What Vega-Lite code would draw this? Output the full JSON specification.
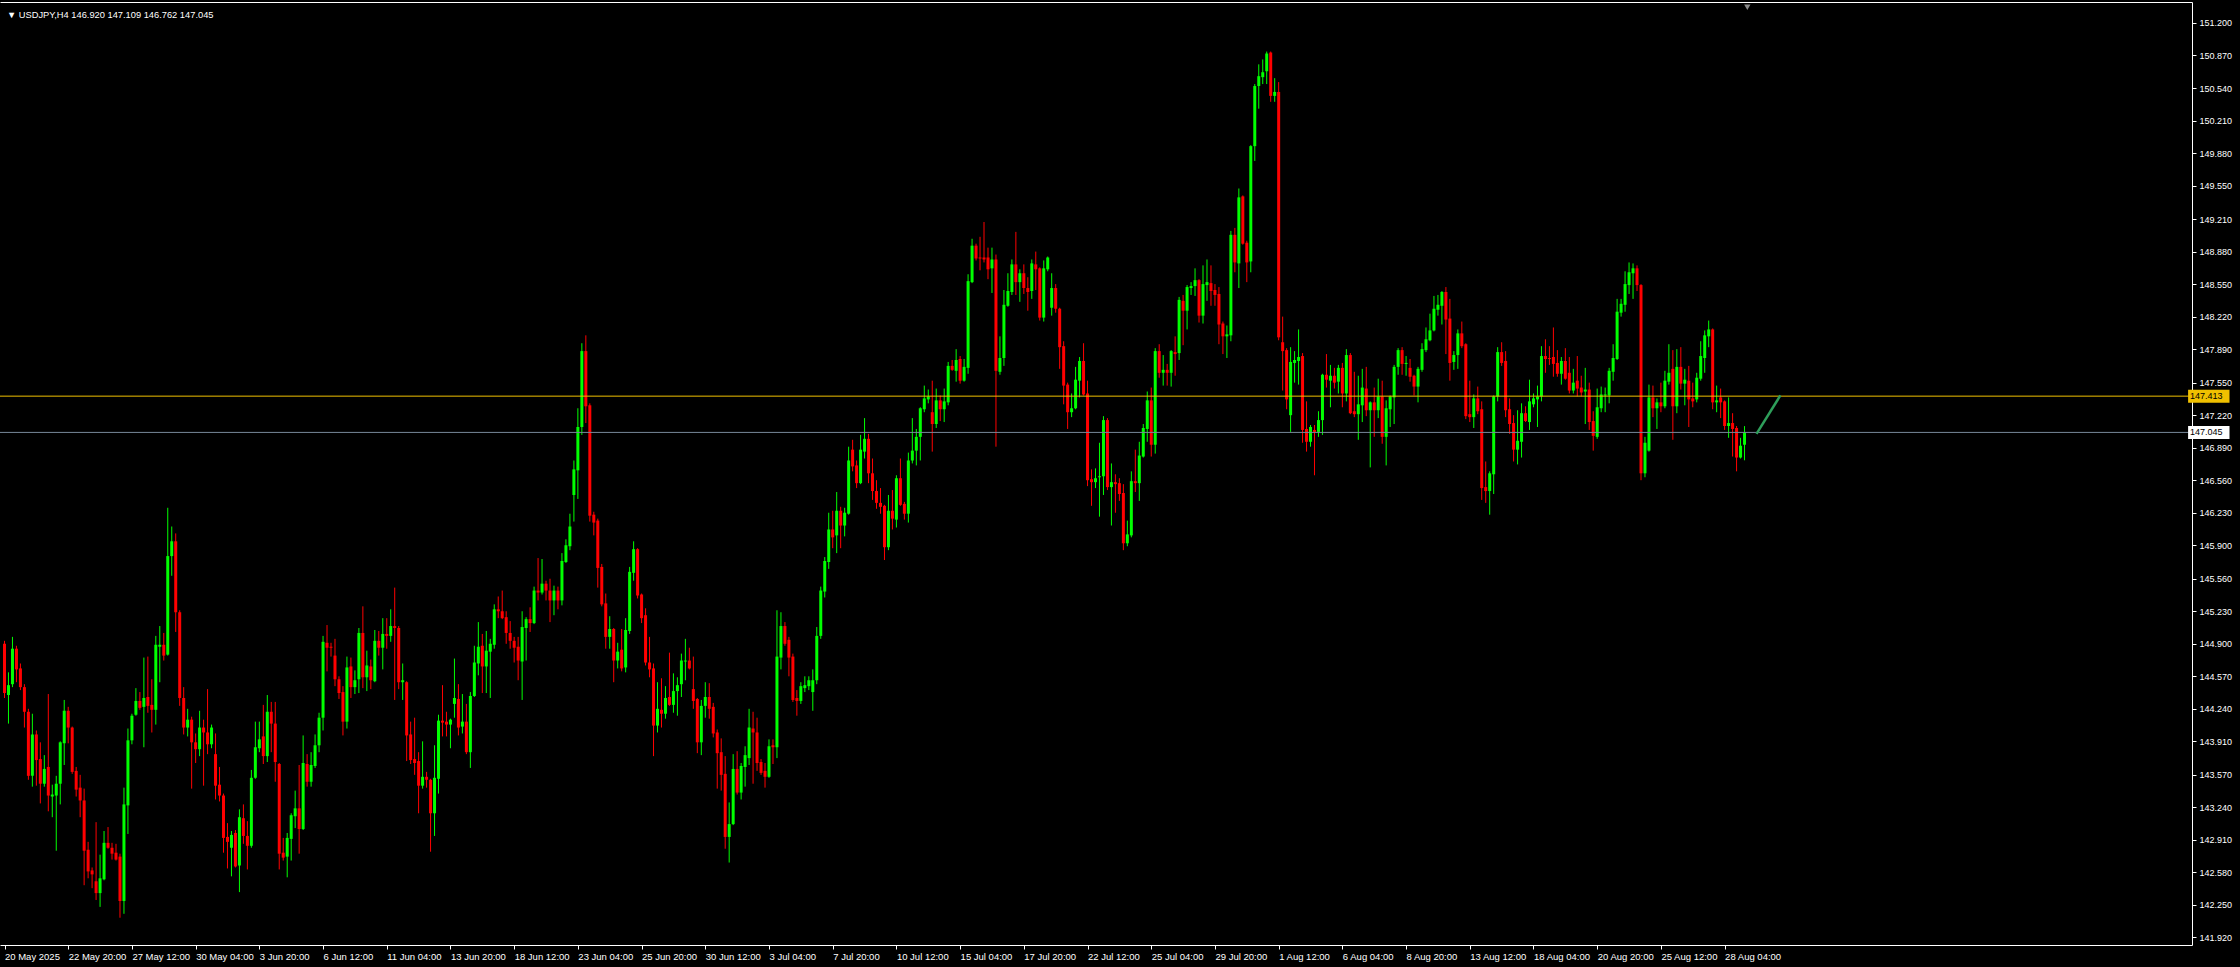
{
"$schema": "https://vega.github.io/schema/vega-lite/v6.json",
"width": 2192, "height": 943,
"autosize": {"type": "none"},
"padding": {"left": 0, "top": 2, "right": 48, "bottom": 22},
"background": "#000000",
"config": {"view": {"stroke": null}, "axis": {"grid": false, "labelColor": "#ffffff", "tickColor": "#ffffff", "domainColor": "#ffffff", "labelFont": "Liberation Sans", "domainWidth": 1, "tickWidth": 1, "labelOverlap": false, "labelFlush": false}},
"resolve": {"axis": {"x": "independent", "y": "independent"}},
"datasets": {
"bars": [
{"i":0,"o":144.90,"h":144.93,"l":144.35,"c":144.40},
{"i":1,"o":144.38,"h":144.61,"l":144.09,"c":144.48},
{"i":2,"o":144.49,"h":144.97,"l":144.46,"c":144.85},
{"i":3,"o":144.85,"h":144.88,"l":144.51,"c":144.64},
{"i":4,"o":144.65,"h":144.70,"l":144.43,"c":144.46},
{"i":5,"o":144.46,"h":144.49,"l":144.05,"c":144.21},
{"i":6,"o":144.21,"h":144.24,"l":143.52,"c":143.56},
{"i":7,"o":143.56,"h":144.19,"l":143.45,"c":143.98},
{"i":8,"o":143.98,"h":144.02,"l":143.46,"c":143.72},
{"i":9,"o":143.73,"h":143.90,"l":143.28,"c":143.48},
{"i":10,"o":143.48,"h":143.77,"l":143.45,"c":143.63},
{"i":11,"o":143.65,"h":144.39,"l":143.20,"c":143.36},
{"i":12,"o":143.35,"h":143.47,"l":143.14,"c":143.37},
{"i":13,"o":143.36,"h":143.56,"l":142.80,"c":143.48},
{"i":14,"o":143.48,"h":143.91,"l":143.27,"c":143.90},
{"i":15,"o":143.89,"h":144.33,"l":143.67,"c":144.22},
{"i":16,"o":144.22,"h":144.26,"l":143.89,"c":144.05},
{"i":17,"o":144.05,"h":144.06,"l":143.58,"c":143.60},
{"i":18,"o":143.61,"h":143.65,"l":143.35,"c":143.42},
{"i":19,"o":143.44,"h":143.57,"l":143.14,"c":143.31},
{"i":20,"o":143.31,"h":143.43,"l":142.45,"c":142.80},
{"i":21,"o":142.81,"h":142.89,"l":142.52,"c":142.59},
{"i":22,"o":142.60,"h":142.63,"l":142.42,"c":142.56},
{"i":23,"o":142.49,"h":143.09,"l":142.30,"c":142.37},
{"i":24,"o":142.37,"h":142.76,"l":142.23,"c":142.52},
{"i":25,"o":142.51,"h":143.00,"l":142.50,"c":142.88},
{"i":26,"o":142.88,"h":143.04,"l":142.82,"c":142.83},
{"i":27,"o":142.83,"h":142.88,"l":142.71,"c":142.77},
{"i":28,"o":142.78,"h":142.87,"l":142.70,"c":142.71},
{"i":29,"o":142.74,"h":142.77,"l":142.12,"c":142.29},
{"i":30,"o":142.29,"h":143.44,"l":142.16,"c":143.27},
{"i":31,"o":143.26,"h":144.04,"l":142.97,"c":143.92},
{"i":32,"o":143.92,"h":144.19,"l":143.88,"c":144.17},
{"i":33,"o":144.18,"h":144.45,"l":144.17,"c":144.32},
{"i":34,"o":144.32,"h":144.41,"l":144.23,"c":144.25},
{"i":35,"o":144.26,"h":144.76,"l":143.85,"c":144.35},
{"i":36,"o":144.36,"h":144.77,"l":144.20,"c":144.27},
{"i":37,"o":144.28,"h":144.54,"l":144.00,"c":144.23},
{"i":38,"o":144.23,"h":144.98,"l":144.08,"c":144.89},
{"i":39,"o":144.87,"h":145.08,"l":144.51,"c":144.89},
{"i":40,"o":144.89,"h":145.01,"l":144.73,"c":144.78},
{"i":41,"o":144.79,"h":146.28,"l":144.78,"c":145.79},
{"i":42,"o":145.79,"h":146.09,"l":145.59,"c":145.94},
{"i":43,"o":145.94,"h":146.02,"l":145.02,"c":145.22},
{"i":44,"o":145.22,"h":145.24,"l":144.27,"c":144.35},
{"i":45,"o":144.35,"h":144.46,"l":143.98,"c":144.05},
{"i":46,"o":144.05,"h":144.24,"l":143.96,"c":144.13},
{"i":47,"o":144.13,"h":144.16,"l":143.43,"c":143.90},
{"i":48,"o":143.90,"h":143.99,"l":143.69,"c":143.83},
{"i":49,"o":143.83,"h":144.22,"l":143.76,"c":144.05},
{"i":50,"o":144.05,"h":144.13,"l":143.46,"c":144.00},
{"i":51,"o":144.00,"h":144.44,"l":143.78,"c":143.88},
{"i":52,"o":143.88,"h":144.08,"l":143.84,"c":144.05},
{"i":53,"o":143.78,"h":143.99,"l":143.32,"c":143.46},
{"i":54,"o":143.47,"h":143.65,"l":143.30,"c":143.36},
{"i":55,"o":143.36,"h":143.38,"l":142.78,"c":142.93},
{"i":56,"o":142.94,"h":143.08,"l":142.62,"c":142.89},
{"i":57,"o":142.83,"h":143.00,"l":142.54,"c":142.96},
{"i":58,"o":142.98,"h":143.01,"l":142.63,"c":142.64},
{"i":59,"o":142.65,"h":143.22,"l":142.38,"c":143.14},
{"i":60,"o":143.13,"h":143.27,"l":142.87,"c":142.95},
{"i":61,"o":142.95,"h":143.10,"l":142.61,"c":142.85},
{"i":62,"o":142.85,"h":143.62,"l":142.83,"c":143.54},
{"i":63,"o":143.54,"h":144.11,"l":143.53,"c":143.85},
{"i":64,"o":143.84,"h":144.11,"l":143.80,"c":143.93},
{"i":65,"o":143.96,"h":144.28,"l":143.68,"c":143.76},
{"i":66,"o":143.76,"h":144.38,"l":143.70,"c":144.21},
{"i":67,"o":144.21,"h":144.31,"l":143.80,"c":144.09},
{"i":68,"o":144.09,"h":144.31,"l":143.50,"c":143.70},
{"i":69,"o":143.68,"h":143.69,"l":142.61,"c":142.77},
{"i":70,"o":142.78,"h":142.93,"l":142.70,"c":142.73},
{"i":71,"o":142.74,"h":142.98,"l":142.53,"c":142.93},
{"i":72,"o":142.92,"h":143.18,"l":142.70,"c":143.16},
{"i":73,"o":143.15,"h":143.41,"l":143.03,"c":143.23},
{"i":74,"o":143.23,"h":143.67,"l":142.77,"c":143.02},
{"i":75,"o":143.02,"h":143.97,"l":143.01,"c":143.69},
{"i":76,"o":143.68,"h":143.78,"l":143.45,"c":143.50},
{"i":77,"o":143.50,"h":143.80,"l":143.45,"c":143.67},
{"i":78,"o":143.66,"h":143.98,"l":143.64,"c":143.87},
{"i":79,"o":143.87,"h":144.20,"l":143.80,"c":144.15},
{"i":80,"o":144.15,"h":144.98,"l":144.02,"c":144.92},
{"i":81,"o":144.91,"h":145.09,"l":144.62,"c":144.86},
{"i":82,"o":144.87,"h":144.91,"l":144.77,"c":144.86},
{"i":83,"o":144.78,"h":144.95,"l":144.47,"c":144.54},
{"i":84,"o":144.54,"h":144.57,"l":144.34,"c":144.40},
{"i":85,"o":144.41,"h":144.47,"l":143.97,"c":144.11},
{"i":86,"o":144.11,"h":144.77,"l":144.04,"c":144.66},
{"i":87,"o":144.67,"h":144.76,"l":144.35,"c":144.46},
{"i":88,"o":144.46,"h":144.63,"l":144.39,"c":144.53},
{"i":89,"o":144.54,"h":145.06,"l":144.40,"c":145.01},
{"i":90,"o":145.01,"h":145.28,"l":144.45,"c":144.56},
{"i":91,"o":144.56,"h":144.83,"l":144.42,"c":144.68},
{"i":92,"o":144.67,"h":144.74,"l":144.44,"c":144.53},
{"i":93,"o":144.52,"h":145.04,"l":144.51,"c":144.93},
{"i":94,"o":144.93,"h":145.03,"l":144.78,"c":144.86},
{"i":95,"o":144.86,"h":145.16,"l":144.64,"c":145.00},
{"i":96,"o":145.00,"h":145.16,"l":144.85,"c":144.98},
{"i":97,"o":144.98,"h":145.25,"l":144.92,"c":145.08},
{"i":98,"o":145.08,"h":145.47,"l":144.33,"c":145.06},
{"i":99,"o":145.06,"h":145.08,"l":144.44,"c":144.51},
{"i":100,"o":144.51,"h":144.70,"l":144.33,"c":144.53},
{"i":101,"o":144.51,"h":144.52,"l":143.71,"c":143.97},
{"i":102,"o":143.98,"h":144.11,"l":143.68,"c":143.72},
{"i":103,"o":143.73,"h":144.15,"l":143.57,"c":143.69},
{"i":104,"o":143.71,"h":143.80,"l":143.18,"c":143.46},
{"i":105,"o":143.46,"h":143.91,"l":143.43,"c":143.55},
{"i":106,"o":143.55,"h":143.60,"l":143.44,"c":143.52},
{"i":107,"o":143.52,"h":143.53,"l":142.79,"c":143.18},
{"i":108,"o":143.18,"h":143.87,"l":142.95,"c":143.54},
{"i":109,"o":143.53,"h":144.18,"l":143.38,"c":144.12},
{"i":110,"o":144.12,"h":144.48,"l":143.96,"c":144.10},
{"i":111,"o":144.11,"h":144.21,"l":143.96,"c":144.08},
{"i":112,"o":144.08,"h":144.14,"l":143.84,"c":144.13},
{"i":113,"o":144.29,"h":144.75,"l":144.15,"c":144.35},
{"i":114,"o":144.34,"h":144.49,"l":143.97,"c":144.05},
{"i":115,"o":144.06,"h":144.39,"l":143.99,"c":144.11},
{"i":116,"o":144.11,"h":144.29,"l":143.78,"c":143.80},
{"i":117,"o":143.80,"h":144.41,"l":143.64,"c":144.37},
{"i":118,"o":144.37,"h":144.88,"l":144.36,"c":144.71},
{"i":119,"o":144.70,"h":145.12,"l":144.58,"c":144.87},
{"i":120,"o":144.88,"h":145.00,"l":144.40,"c":144.67},
{"i":121,"o":144.67,"h":145.03,"l":144.40,"c":144.83},
{"i":122,"o":144.82,"h":144.95,"l":144.35,"c":144.90},
{"i":123,"o":144.89,"h":145.30,"l":144.85,"c":145.25},
{"i":124,"o":145.25,"h":145.38,"l":145.16,"c":145.23},
{"i":125,"o":145.23,"h":145.44,"l":145.15,"c":145.16},
{"i":126,"o":145.17,"h":145.23,"l":144.90,"c":145.01},
{"i":127,"o":145.01,"h":145.13,"l":144.85,"c":144.93},
{"i":128,"o":144.93,"h":144.97,"l":144.71,"c":144.86},
{"i":129,"o":144.87,"h":144.97,"l":144.53,"c":144.73},
{"i":130,"o":144.72,"h":145.23,"l":144.33,"c":145.07},
{"i":131,"o":145.06,"h":145.17,"l":144.73,"c":145.15},
{"i":132,"o":145.15,"h":145.27,"l":145.02,"c":145.11},
{"i":133,"o":145.11,"h":145.48,"l":145.10,"c":145.44},
{"i":134,"o":145.44,"h":145.77,"l":145.34,"c":145.42},
{"i":135,"o":145.42,"h":145.76,"l":145.40,"c":145.51},
{"i":136,"o":145.51,"h":145.54,"l":145.34,"c":145.44},
{"i":137,"o":145.44,"h":145.56,"l":145.12,"c":145.34},
{"i":138,"o":145.34,"h":145.49,"l":145.19,"c":145.44},
{"i":139,"o":145.44,"h":145.48,"l":145.25,"c":145.34},
{"i":140,"o":145.34,"h":145.82,"l":145.29,"c":145.74},
{"i":141,"o":145.73,"h":145.96,"l":145.72,"c":145.90},
{"i":142,"o":145.89,"h":146.22,"l":145.85,"c":146.09},
{"i":143,"o":146.41,"h":146.76,"l":146.14,"c":146.67},
{"i":144,"o":146.66,"h":147.29,"l":146.37,"c":147.10},
{"i":145,"o":147.10,"h":147.95,"l":147.02,"c":147.87},
{"i":146,"o":147.87,"h":148.03,"l":147.14,"c":147.31},
{"i":147,"o":147.32,"h":147.34,"l":146.14,"c":146.20},
{"i":148,"o":146.21,"h":146.24,"l":146.00,"c":146.13},
{"i":149,"o":146.15,"h":146.17,"l":145.47,"c":145.67},
{"i":150,"o":145.68,"h":145.71,"l":145.28,"c":145.30},
{"i":151,"o":145.31,"h":145.41,"l":144.85,"c":144.97},
{"i":152,"o":144.97,"h":145.18,"l":144.85,"c":145.05},
{"i":153,"o":145.05,"h":145.06,"l":144.51,"c":144.73},
{"i":154,"o":144.73,"h":144.91,"l":144.65,"c":144.82},
{"i":155,"o":144.84,"h":145.05,"l":144.62,"c":144.65},
{"i":156,"o":144.66,"h":145.16,"l":144.61,"c":145.04},
{"i":157,"o":145.03,"h":145.68,"l":145.00,"c":145.63},
{"i":158,"o":145.62,"h":145.94,"l":145.54,"c":145.86},
{"i":159,"o":145.86,"h":145.87,"l":145.36,"c":145.39},
{"i":160,"o":145.40,"h":145.41,"l":145.11,"c":145.16},
{"i":161,"o":145.19,"h":145.26,"l":144.68,"c":144.71},
{"i":162,"o":144.71,"h":144.97,"l":144.56,"c":144.64},
{"i":163,"o":144.65,"h":144.70,"l":143.76,"c":144.07},
{"i":164,"o":144.07,"h":144.51,"l":144.00,"c":144.24},
{"i":165,"o":144.23,"h":144.55,"l":144.05,"c":144.19},
{"i":166,"o":144.19,"h":144.47,"l":144.14,"c":144.35},
{"i":167,"o":144.36,"h":144.81,"l":144.27,"c":144.28},
{"i":168,"o":144.28,"h":144.60,"l":144.20,"c":144.42},
{"i":169,"o":144.42,"h":144.56,"l":144.17,"c":144.48},
{"i":170,"o":144.49,"h":144.80,"l":144.36,"c":144.73},
{"i":171,"o":144.72,"h":144.95,"l":144.53,"c":144.73},
{"i":172,"o":144.73,"h":144.86,"l":144.64,"c":144.65},
{"i":173,"o":144.44,"h":144.77,"l":144.24,"c":144.32},
{"i":174,"o":144.34,"h":144.35,"l":143.79,"c":143.90},
{"i":175,"o":143.90,"h":144.33,"l":143.77,"c":144.27},
{"i":176,"o":144.27,"h":144.51,"l":144.15,"c":144.36},
{"i":177,"o":144.36,"h":144.50,"l":144.14,"c":144.24},
{"i":178,"o":144.26,"h":144.30,"l":143.95,"c":143.99},
{"i":179,"o":144.00,"h":144.03,"l":143.43,"c":143.79},
{"i":180,"o":143.80,"h":143.94,"l":143.41,"c":143.57},
{"i":181,"o":143.58,"h":143.76,"l":142.82,"c":142.94},
{"i":182,"o":142.94,"h":143.29,"l":142.68,"c":143.07},
{"i":183,"o":143.07,"h":143.78,"l":143.06,"c":143.63},
{"i":184,"o":143.63,"h":143.81,"l":143.37,"c":143.39},
{"i":185,"o":143.39,"h":143.69,"l":143.32,"c":143.66},
{"i":186,"o":143.65,"h":143.86,"l":143.45,"c":143.77},
{"i":187,"o":143.74,"h":144.24,"l":143.67,"c":144.05},
{"i":188,"o":144.04,"h":144.21,"l":143.48,"c":144.00},
{"i":189,"o":144.00,"h":144.15,"l":143.61,"c":143.69},
{"i":190,"o":143.70,"h":143.73,"l":143.57,"c":143.59},
{"i":191,"o":143.61,"h":143.69,"l":143.44,"c":143.55},
{"i":192,"o":143.55,"h":143.93,"l":143.54,"c":143.86},
{"i":193,"o":143.87,"h":143.93,"l":143.68,"c":143.85},
{"i":194,"o":143.85,"h":145.24,"l":143.74,"c":144.77},
{"i":195,"o":144.76,"h":145.22,"l":144.64,"c":145.08},
{"i":196,"o":145.08,"h":145.12,"l":144.88,"c":144.90},
{"i":197,"o":144.94,"h":144.97,"l":144.57,"c":144.76},
{"i":198,"o":144.77,"h":144.80,"l":144.31,"c":144.33},
{"i":199,"o":144.35,"h":144.43,"l":144.17,"c":144.32},
{"i":200,"o":144.32,"h":144.51,"l":144.29,"c":144.47},
{"i":201,"o":144.45,"h":144.57,"l":144.41,"c":144.48},
{"i":202,"o":144.47,"h":144.57,"l":144.43,"c":144.53},
{"i":203,"o":144.41,"h":144.64,"l":144.22,"c":144.53},
{"i":204,"o":144.53,"h":145.07,"l":144.49,"c":144.98},
{"i":205,"o":144.98,"h":145.48,"l":144.95,"c":145.44},
{"i":206,"o":145.43,"h":145.78,"l":145.37,"c":145.74},
{"i":207,"o":145.73,"h":146.23,"l":145.66,"c":146.06},
{"i":208,"o":146.06,"h":146.25,"l":145.87,"c":145.98},
{"i":209,"o":146.00,"h":146.44,"l":145.82,"c":146.25},
{"i":210,"o":146.25,"h":146.29,"l":145.87,"c":146.10},
{"i":211,"o":146.10,"h":146.28,"l":145.99,"c":146.23},
{"i":212,"o":146.22,"h":146.90,"l":146.21,"c":146.76},
{"i":213,"o":146.87,"h":146.97,"l":146.65,"c":146.70},
{"i":214,"o":146.71,"h":146.76,"l":146.48,"c":146.53},
{"i":215,"o":146.53,"h":147.02,"l":146.52,"c":146.87},
{"i":216,"o":146.85,"h":147.19,"l":146.78,"c":146.98},
{"i":217,"o":146.98,"h":147.03,"l":146.53,"c":146.63},
{"i":218,"o":146.63,"h":146.78,"l":146.36,"c":146.45},
{"i":219,"o":146.45,"h":146.56,"l":146.27,"c":146.33},
{"i":220,"o":146.33,"h":146.48,"l":146.22,"c":146.29},
{"i":221,"o":146.30,"h":146.31,"l":145.75,"c":145.88},
{"i":222,"o":145.88,"h":146.41,"l":145.85,"c":146.25},
{"i":223,"o":146.25,"h":146.46,"l":146.06,"c":146.17},
{"i":224,"o":146.16,"h":146.61,"l":146.08,"c":146.58},
{"i":225,"o":146.58,"h":146.78,"l":146.30,"c":146.31},
{"i":226,"o":146.32,"h":146.34,"l":146.16,"c":146.22},
{"i":227,"o":146.22,"h":146.84,"l":146.13,"c":146.76},
{"i":228,"o":146.76,"h":147.19,"l":146.73,"c":146.86},
{"i":229,"o":146.86,"h":147.08,"l":146.71,"c":147.00},
{"i":230,"o":147.00,"h":147.30,"l":146.76,"c":147.29},
{"i":231,"o":147.28,"h":147.52,"l":147.25,"c":147.39},
{"i":232,"o":147.38,"h":147.48,"l":147.34,"c":147.41},
{"i":233,"o":147.25,"h":147.57,"l":146.85,"c":147.13},
{"i":234,"o":147.13,"h":147.49,"l":147.09,"c":147.37},
{"i":235,"o":147.37,"h":147.42,"l":147.16,"c":147.28},
{"i":236,"o":147.28,"h":147.49,"l":147.15,"c":147.36},
{"i":237,"o":147.35,"h":147.76,"l":147.32,"c":147.72},
{"i":238,"o":147.72,"h":147.78,"l":147.67,"c":147.68},
{"i":239,"o":147.67,"h":147.89,"l":147.56,"c":147.78},
{"i":240,"o":147.79,"h":147.82,"l":147.54,"c":147.57},
{"i":241,"o":147.57,"h":147.79,"l":147.56,"c":147.71},
{"i":242,"o":147.70,"h":148.65,"l":147.64,"c":148.58},
{"i":243,"o":148.57,"h":149.01,"l":148.56,"c":148.94},
{"i":244,"o":148.94,"h":148.96,"l":148.79,"c":148.81},
{"i":245,"o":148.82,"h":149.03,"l":148.69,"c":148.81},
{"i":246,"o":148.82,"h":149.18,"l":148.77,"c":148.80},
{"i":247,"o":148.82,"h":148.92,"l":148.60,"c":148.70},
{"i":248,"o":148.71,"h":148.92,"l":148.46,"c":148.80},
{"i":249,"o":148.80,"h":148.85,"l":146.90,"c":147.67},
{"i":250,"o":147.66,"h":148.02,"l":147.63,"c":147.80},
{"i":251,"o":147.80,"h":148.49,"l":147.72,"c":148.34},
{"i":252,"o":148.33,"h":148.66,"l":148.32,"c":148.48},
{"i":253,"o":148.47,"h":148.80,"l":148.44,"c":148.75},
{"i":254,"o":148.75,"h":149.08,"l":148.44,"c":148.57},
{"i":255,"o":148.57,"h":148.70,"l":148.37,"c":148.66},
{"i":256,"o":148.66,"h":148.75,"l":148.45,"c":148.51},
{"i":257,"o":148.51,"h":148.62,"l":148.28,"c":148.47},
{"i":258,"o":148.48,"h":148.80,"l":148.40,"c":148.76},
{"i":259,"o":148.75,"h":148.88,"l":148.49,"c":148.70},
{"i":260,"o":148.71,"h":148.72,"l":148.18,"c":148.21},
{"i":261,"o":148.21,"h":148.79,"l":148.17,"c":148.71},
{"i":262,"o":148.70,"h":148.83,"l":148.68,"c":148.82},
{"i":263,"o":148.31,"h":148.66,"l":148.23,"c":148.51},
{"i":264,"o":148.51,"h":148.55,"l":148.26,"c":148.30},
{"i":265,"o":148.30,"h":148.31,"l":147.69,"c":147.91},
{"i":266,"o":147.92,"h":147.97,"l":147.33,"c":147.52},
{"i":267,"o":147.53,"h":147.55,"l":147.08,"c":147.25},
{"i":268,"o":147.25,"h":147.44,"l":147.20,"c":147.29},
{"i":269,"o":147.29,"h":147.71,"l":147.28,"c":147.58},
{"i":270,"o":147.57,"h":147.81,"l":147.40,"c":147.77},
{"i":271,"o":147.77,"h":147.95,"l":147.42,"c":147.43},
{"i":272,"o":147.44,"h":147.57,"l":146.50,"c":146.56},
{"i":273,"o":146.57,"h":146.67,"l":146.30,"c":146.54},
{"i":274,"o":146.54,"h":146.68,"l":146.48,"c":146.58},
{"i":275,"o":146.59,"h":146.94,"l":146.19,"c":146.60},
{"i":276,"o":146.60,"h":147.21,"l":146.41,"c":147.17},
{"i":277,"o":147.17,"h":147.19,"l":146.46,"c":146.49},
{"i":278,"o":146.49,"h":146.73,"l":146.10,"c":146.54},
{"i":279,"o":146.54,"h":146.62,"l":146.23,"c":146.52},
{"i":280,"o":146.53,"h":146.58,"l":146.35,"c":146.42},
{"i":281,"o":146.43,"h":146.52,"l":145.85,"c":145.92},
{"i":282,"o":145.92,"h":146.15,"l":145.89,"c":146.01},
{"i":283,"o":146.00,"h":146.65,"l":145.98,"c":146.55},
{"i":284,"o":146.55,"h":146.87,"l":146.44,"c":146.53},
{"i":285,"o":146.53,"h":146.95,"l":146.35,"c":146.81},
{"i":286,"o":146.80,"h":147.13,"l":146.79,"c":147.09},
{"i":287,"o":147.08,"h":147.46,"l":146.95,"c":147.37},
{"i":288,"o":147.37,"h":147.50,"l":146.80,"c":146.92},
{"i":289,"o":146.92,"h":147.90,"l":146.83,"c":147.87},
{"i":290,"o":147.87,"h":147.94,"l":147.60,"c":147.65},
{"i":291,"o":147.65,"h":147.83,"l":147.52,"c":147.68},
{"i":292,"o":147.68,"h":147.74,"l":147.52,"c":147.65},
{"i":293,"o":147.65,"h":147.88,"l":147.51,"c":147.87},
{"i":294,"o":147.86,"h":148.02,"l":147.62,"c":147.84},
{"i":295,"o":147.85,"h":148.42,"l":147.78,"c":148.39},
{"i":296,"o":148.38,"h":148.44,"l":147.93,"c":148.28},
{"i":297,"o":148.28,"h":148.54,"l":148.09,"c":148.52},
{"i":298,"o":148.51,"h":148.57,"l":148.44,"c":148.53},
{"i":299,"o":148.53,"h":148.71,"l":148.43,"c":148.59},
{"i":300,"o":148.59,"h":148.60,"l":148.16,"c":148.23},
{"i":301,"o":148.23,"h":148.74,"l":148.15,"c":148.55},
{"i":302,"o":148.54,"h":148.80,"l":148.38,"c":148.57},
{"i":303,"o":148.56,"h":148.74,"l":148.33,"c":148.48},
{"i":304,"o":148.49,"h":148.55,"l":148.33,"c":148.44},
{"i":305,"o":148.45,"h":148.52,"l":147.94,"c":148.14},
{"i":306,"o":148.15,"h":148.17,"l":147.84,"c":148.02},
{"i":307,"o":148.02,"h":148.13,"l":147.80,"c":148.04},
{"i":308,"o":148.03,"h":149.09,"l":147.97,"c":149.05},
{"i":309,"o":149.05,"h":149.12,"l":148.67,"c":148.77},
{"i":310,"o":148.76,"h":149.52,"l":148.51,"c":149.43},
{"i":311,"o":149.44,"h":149.45,"l":148.95,"c":148.96},
{"i":312,"o":148.97,"h":148.99,"l":148.57,"c":148.77},
{"i":313,"o":148.78,"h":149.96,"l":148.67,"c":149.95},
{"i":314,"o":149.95,"h":150.58,"l":149.80,"c":150.56},
{"i":315,"o":150.56,"h":150.78,"l":150.33,"c":150.66},
{"i":316,"o":150.65,"h":150.83,"l":150.58,"c":150.70},
{"i":317,"o":150.71,"h":150.91,"l":150.58,"c":150.89},
{"i":318,"o":150.90,"h":150.91,"l":150.40,"c":150.46},
{"i":319,"o":150.46,"h":150.64,"l":150.40,"c":150.50},
{"i":320,"o":150.50,"h":150.60,"l":147.98,"c":148.01},
{"i":321,"o":147.96,"h":148.22,"l":147.47,"c":147.87},
{"i":322,"o":147.88,"h":147.90,"l":147.28,"c":147.38},
{"i":323,"o":147.22,"h":147.91,"l":147.05,"c":147.76},
{"i":324,"o":147.75,"h":147.87,"l":147.55,"c":147.78},
{"i":325,"o":147.77,"h":148.09,"l":147.53,"c":147.81},
{"i":326,"o":147.82,"h":147.85,"l":146.94,"c":147.07},
{"i":327,"o":147.08,"h":147.36,"l":146.85,"c":146.95},
{"i":328,"o":146.95,"h":147.12,"l":146.90,"c":147.10},
{"i":329,"o":147.07,"h":147.12,"l":146.61,"c":147.05},
{"i":330,"o":147.05,"h":147.26,"l":147.00,"c":147.17},
{"i":331,"o":147.17,"h":147.64,"l":147.02,"c":147.63},
{"i":332,"o":147.63,"h":147.84,"l":147.50,"c":147.58},
{"i":333,"o":147.57,"h":147.73,"l":147.30,"c":147.62},
{"i":334,"o":147.62,"h":147.70,"l":147.49,"c":147.55},
{"i":335,"o":147.56,"h":147.73,"l":147.44,"c":147.70},
{"i":336,"o":147.70,"h":147.75,"l":147.30,"c":147.44},
{"i":337,"o":147.44,"h":147.89,"l":147.36,"c":147.83},
{"i":338,"o":147.83,"h":147.85,"l":147.23,"c":147.24},
{"i":339,"o":147.26,"h":147.66,"l":147.20,"c":147.23},
{"i":340,"o":147.23,"h":147.62,"l":146.97,"c":147.33},
{"i":341,"o":147.32,"h":147.69,"l":147.15,"c":147.50},
{"i":342,"o":147.49,"h":147.71,"l":147.21,"c":147.27},
{"i":343,"o":147.27,"h":147.36,"l":146.69,"c":147.35},
{"i":344,"o":147.35,"h":147.50,"l":147.00,"c":147.27},
{"i":345,"o":147.27,"h":147.59,"l":147.19,"c":147.41},
{"i":346,"o":147.41,"h":147.57,"l":146.93,"c":147.00},
{"i":347,"o":147.00,"h":147.37,"l":146.71,"c":147.29},
{"i":348,"o":147.28,"h":147.42,"l":147.10,"c":147.41},
{"i":349,"o":147.40,"h":147.73,"l":147.13,"c":147.71},
{"i":350,"o":147.71,"h":147.90,"l":147.63,"c":147.88},
{"i":351,"o":147.88,"h":147.91,"l":147.63,"c":147.74},
{"i":352,"o":147.74,"h":147.82,"l":147.62,"c":147.75},
{"i":353,"o":147.70,"h":147.79,"l":147.56,"c":147.61},
{"i":354,"o":147.62,"h":147.63,"l":147.42,"c":147.51},
{"i":355,"o":147.51,"h":147.71,"l":147.35,"c":147.69},
{"i":356,"o":147.68,"h":147.95,"l":147.66,"c":147.89},
{"i":357,"o":147.88,"h":148.11,"l":147.86,"c":147.99},
{"i":358,"o":147.98,"h":148.25,"l":147.97,"c":148.08},
{"i":359,"o":148.08,"h":148.43,"l":148.07,"c":148.30},
{"i":360,"o":148.29,"h":148.44,"l":148.23,"c":148.34},
{"i":361,"o":148.33,"h":148.48,"l":148.14,"c":148.47},
{"i":362,"o":148.47,"h":148.52,"l":147.84,"c":148.19},
{"i":363,"o":148.20,"h":148.40,"l":147.57,"c":147.75},
{"i":364,"o":147.76,"h":147.87,"l":147.68,"c":147.83},
{"i":365,"o":147.83,"h":148.09,"l":147.69,"c":148.05},
{"i":366,"o":148.05,"h":148.17,"l":147.90,"c":147.92},
{"i":367,"o":147.94,"h":147.95,"l":147.18,"c":147.21},
{"i":368,"o":147.23,"h":147.57,"l":147.15,"c":147.20},
{"i":369,"o":147.20,"h":147.43,"l":147.09,"c":147.39},
{"i":370,"o":147.39,"h":147.51,"l":147.23,"c":147.26},
{"i":371,"o":147.28,"h":147.36,"l":146.36,"c":146.48},
{"i":372,"o":146.49,"h":146.75,"l":146.33,"c":146.45},
{"i":373,"o":146.45,"h":146.65,"l":146.21,"c":146.63},
{"i":374,"o":146.62,"h":147.42,"l":146.42,"c":147.41},
{"i":375,"o":147.41,"h":147.91,"l":147.36,"c":147.86},
{"i":376,"o":147.86,"h":147.96,"l":147.72,"c":147.75},
{"i":377,"o":147.77,"h":147.87,"l":147.20,"c":147.27},
{"i":378,"o":147.28,"h":147.39,"l":147.03,"c":147.13},
{"i":379,"o":147.14,"h":147.22,"l":146.75,"c":146.87},
{"i":380,"o":146.87,"h":147.27,"l":146.72,"c":146.96},
{"i":381,"o":146.95,"h":147.34,"l":146.79,"c":147.24},
{"i":382,"o":147.24,"h":147.31,"l":147.15,"c":147.16},
{"i":383,"o":147.15,"h":147.58,"l":147.07,"c":147.36},
{"i":384,"o":147.33,"h":147.44,"l":147.30,"c":147.39},
{"i":385,"o":147.38,"h":147.52,"l":147.10,"c":147.41},
{"i":386,"o":147.41,"h":147.92,"l":147.36,"c":147.82},
{"i":387,"o":147.82,"h":147.99,"l":147.65,"c":147.79},
{"i":388,"o":147.80,"h":147.92,"l":147.73,"c":147.79},
{"i":389,"o":147.81,"h":148.11,"l":147.61,"c":147.74},
{"i":390,"o":147.75,"h":147.88,"l":147.61,"c":147.64},
{"i":391,"o":147.64,"h":147.81,"l":147.53,"c":147.77},
{"i":392,"o":147.77,"h":147.90,"l":147.58,"c":147.59},
{"i":393,"o":147.65,"h":147.81,"l":147.44,"c":147.47},
{"i":394,"o":147.47,"h":147.69,"l":147.44,"c":147.55},
{"i":395,"o":147.57,"h":147.82,"l":147.41,"c":147.49},
{"i":396,"o":147.50,"h":147.62,"l":147.41,"c":147.45},
{"i":397,"o":147.46,"h":147.70,"l":147.13,"c":147.48},
{"i":398,"o":147.48,"h":147.55,"l":147.07,"c":147.15},
{"i":399,"o":147.16,"h":147.26,"l":146.86,"c":147.01},
{"i":400,"o":147.00,"h":147.49,"l":146.98,"c":147.30},
{"i":401,"o":147.29,"h":147.51,"l":147.25,"c":147.43},
{"i":402,"o":147.42,"h":147.50,"l":147.25,"c":147.43},
{"i":403,"o":147.42,"h":147.70,"l":147.34,"c":147.67},
{"i":404,"o":147.66,"h":147.94,"l":147.57,"c":147.80},
{"i":405,"o":147.79,"h":148.40,"l":147.78,"c":148.27},
{"i":406,"o":148.26,"h":148.40,"l":148.22,"c":148.35},
{"i":407,"o":148.34,"h":148.68,"l":148.27,"c":148.55},
{"i":408,"o":148.54,"h":148.77,"l":148.45,"c":148.67},
{"i":409,"o":148.66,"h":148.76,"l":148.40,"c":148.71},
{"i":410,"o":148.71,"h":148.74,"l":148.48,"c":148.54},
{"i":411,"o":148.54,"h":148.55,"l":146.56,"c":146.63},
{"i":412,"o":146.63,"h":147.00,"l":146.59,"c":146.94},
{"i":413,"o":146.86,"h":147.53,"l":146.85,"c":147.40},
{"i":414,"o":147.40,"h":147.52,"l":147.20,"c":147.29},
{"i":415,"o":147.29,"h":147.39,"l":147.08,"c":147.35},
{"i":416,"o":147.35,"h":147.55,"l":147.25,"c":147.31},
{"i":417,"o":147.31,"h":147.67,"l":147.29,"c":147.57},
{"i":418,"o":147.56,"h":147.94,"l":147.53,"c":147.65},
{"i":419,"o":147.69,"h":147.88,"l":146.97,"c":147.31},
{"i":420,"o":147.31,"h":147.89,"l":147.24,"c":147.71},
{"i":421,"o":147.71,"h":147.91,"l":147.48,"c":147.54},
{"i":422,"o":147.54,"h":147.69,"l":147.32,"c":147.58},
{"i":423,"o":147.57,"h":147.72,"l":147.10,"c":147.38},
{"i":424,"o":147.39,"h":147.55,"l":147.30,"c":147.36},
{"i":425,"o":147.38,"h":147.65,"l":147.35,"c":147.60},
{"i":426,"o":147.59,"h":147.97,"l":147.57,"c":147.82},
{"i":427,"o":147.80,"h":148.08,"l":147.65,"c":148.03},
{"i":428,"o":148.02,"h":148.18,"l":147.91,"c":148.09},
{"i":429,"o":148.09,"h":148.10,"l":147.28,"c":147.35},
{"i":430,"o":147.35,"h":147.52,"l":147.25,"c":147.37},
{"i":431,"o":147.40,"h":147.49,"l":147.19,"c":147.35},
{"i":432,"o":147.36,"h":147.37,"l":147.07,"c":147.11},
{"i":433,"o":147.11,"h":147.40,"l":146.99,"c":147.14},
{"i":434,"o":147.14,"h":147.24,"l":146.80,"c":147.08},
{"i":435,"o":147.09,"h":147.11,"l":146.65,"c":146.79},
{"i":436,"o":146.79,"h":146.99,"l":146.78,"c":146.91},
{"i":437,"o":146.920,"h":147.109,"l":146.762,"c":147.045}
],
"levels": [{"p":147.413,"k":"line"},{"p":147.045,"k":"bid"}],
"arrow": [{"i":440,"p":147.03},{"i":446,"p":147.42}]
},
"layer": [
{"data": {"name": "bars"}, "mark": {"type": "rule", "strokeWidth": 1},
 "encoding": {
  "x": {"field": "i", "type": "quantitative", "title": null, "scale": {"domain": [0.125, 548.125], "nice": false, "zero": false},
   "axis": {"orient": "bottom", "values": [0,16,32,48,64,80,96,112,128,144,160,176,192,208,224,240,256,272,288,304,320,336,352,368,384,400,416,432],
    "labelExpr": "['20 May 2025','22 May 20:00','27 May 12:00','30 May 04:00','3 Jun 20:00','6 Jun 12:00','11 Jun 04:00','13 Jun 20:00','18 Jun 12:00','23 Jun 04:00','25 Jun 20:00','30 Jun 12:00','3 Jul 04:00','7 Jul 20:00','10 Jul 12:00','15 Jul 04:00','17 Jul 20:00','22 Jul 12:00','25 Jul 04:00','29 Jul 20:00','1 Aug 12:00','6 Aug 04:00','8 Aug 20:00','13 Aug 12:00','18 Aug 04:00','20 Aug 20:00','25 Aug 12:00','28 Aug 04:00'][round(datum.value/16)]",
    "labelAlign": "left", "labelBaseline": "top", "labelFontSize": 9.5, "labelPadding": 2, "tickSize": 4, "labelOverlap": false, "labelFlush": false, "labelBound": false}},
  "y": {"field": "l", "type": "quantitative", "title": null, "scale": {"domain": [141.894, 151.362], "nice": false, "zero": false},
   "axis": {"orient": "right", "values": [151.2,150.87,150.54,150.21,149.88,149.55,149.21,148.88,148.55,148.22,147.89,147.55,147.22,146.89,146.56,146.23,145.9,145.56,145.23,144.9,144.57,144.24,143.91,143.57,143.24,142.91,142.58,142.25,141.92],
    "format": ".3f", "labelFontSize": 9, "labelPadding": 3, "tickSize": 4, "labelOverlap": false, "labelFlush": false, "labelBaseline": "middle", "labelSeparation": 0, "tickCount": 29}},
  "y2": {"field": "h"},
  "color": {"condition": {"test": "datum.c >= datum.o", "value": "#00ff00"}, "value": "#ff0000"}
 }},
{"data": {"name": "bars"}, "mark": {"type": "bar", "size": 3},
 "encoding": {
  "x": {"field": "i", "type": "quantitative", "title": null, "axis": {"orient": "top", "labels": false, "ticks": false}},
  "y": {"field": "o", "type": "quantitative", "title": null, "axis": null},
  "y2": {"field": "c"},
  "color": {"condition": {"test": "datum.c >= datum.o", "value": "#00ff00"}, "value": "#ff0000"}
 }},
{"data": {"name": "levels"}, "mark": {"type": "rule", "strokeWidth": 1},
 "encoding": {
  "y": {"field": "p", "type": "quantitative", "title": null, "axis": null},
  "color": {"condition": {"test": "datum.k === 'line'", "value": "#f0c000"}, "value": "#778899"}
 }},
{"data": {"name": "levels"}, "mark": {"type": "bar", "size": 13, "orient": "horizontal"},
 "encoding": {
  "x": {"datum": 548.4, "type": "quantitative", "axis": null},
  "x2": {"datum": 558.8},
  "y": {"field": "p", "type": "quantitative", "title": null, "axis": null},
  "color": {"condition": {"test": "datum.k === 'line'", "value": "#f0c000"}, "value": "#ffffff"}
 }},
{"data": {"name": "levels"}, "mark": {"type": "text", "align": "left", "baseline": "middle", "fontSize": 9, "font": "Liberation Sans", "color": "#000000", "dx": 1},
 "encoding": {
  "x": {"datum": 548.6, "type": "quantitative", "axis": null},
  "y": {"field": "p", "type": "quantitative", "title": null, "axis": null},
  "text": {"field": "p", "type": "quantitative", "format": ".3f"}
 }},
{"data": {"name": "arrow"}, "mark": {"type": "line", "strokeWidth": 2.5, "color": "#2e9e5a"},
 "encoding": {
  "x": {"field": "i", "type": "quantitative", "axis": null},
  "y": {"field": "p", "type": "quantitative", "title": null, "axis": null}
 }},
{"data": {"values": [{}]}, "mark": {"type": "point", "shape": "triangle-down", "filled": true, "size": 40, "color": "#8a8a8a", "opacity": 1},
 "encoding": {
  "x": {"datum": 437.7, "type": "quantitative", "axis": null},
  "y": {"datum": 151.36, "type": "quantitative", "title": null, "axis": null}
 }},
{"data": {"values": [{}]}, "mark": {"type": "text", "text": "▼ USDJPY,H4  146.920 147.109 146.762 147.045", "align": "left", "baseline": "alphabetic", "fontSize": 9.3, "font": "Liberation Sans", "color": "#ffffff"},
 "encoding": {
  "x": {"datum": 0.625, "type": "quantitative", "axis": null},
  "y": {"datum": 151.255, "type": "quantitative", "title": null, "axis": null}
 }}
]
}
